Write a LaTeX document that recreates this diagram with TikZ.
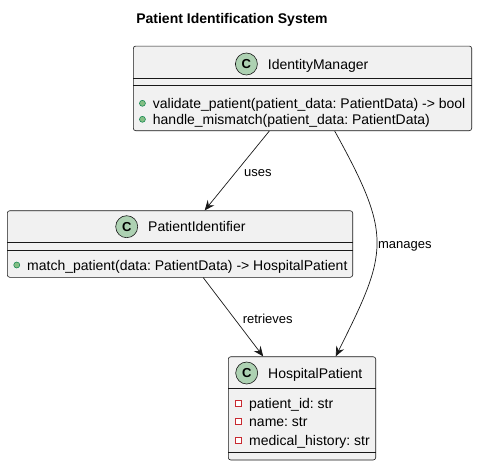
\documentclass[tikz,border=0pt]{standalone}
\usepackage{fontspec}
\setmainfont{Liberation Sans}
\usetikzlibrary{positioning,calc,arrows.meta}
\definecolor{umlbg}{HTML}{F1F1F1}
\definecolor{umlline}{HTML}{181818}
\definecolor{umlicon}{HTML}{ADD1B2}
\definecolor{umlpub}{HTML}{84BE84}
\definecolor{umlpubline}{HTML}{038048}
\definecolor{umlpriv}{HTML}{C82930}
\frenchspacing

\begin{document}
\begin{tikzpicture}[x=1pt, y=-1pt,
  classbox/.style={draw=umlline, fill=umlbg, rectangle, rounded corners=2.5pt, line width=0.6pt, inner sep=0pt},
  classname/.style={font=\fontsize{14}{16}\selectfont, inner sep=1pt, text height=10pt, text depth=0pt, anchor=west},
  classicon/.style={draw=umlline, fill=umlicon, circle, line width=0.6pt, minimum size=22pt, inner sep=0pt, font=\fontsize{13}{15}\selectfont\bfseries},
  member/.style={classname},
  pubmark/.style={draw=umlpubline, fill=umlpub, circle, minimum size=6pt, inner sep=0pt, line width=0.5pt},
  privmark/.style={draw=umlpriv, fill=white, rectangle, minimum size=6pt, inner sep=0pt, line width=0.7pt},
  sepline/.style={draw=umlline, line width=0.6pt},
  assoc/.style={-{Stealth[length=10pt, width=8.5pt, inset=3.5pt]}, draw=umlline, line width=0.7pt},
  edgelabel/.style={font=\fontsize{13}{15}\selectfont, inner sep=1pt, text height=9pt, text depth=0pt}
]
\useasboundingbox (0,0) rectangle (477,466);

% Title
\node[font=\fontsize{14}{16}\selectfont\bfseries] (title) at (232,20) {Patient Identification System};

% IdentityManager
\node[classbox, minimum width=338.4pt, minimum height=84.7pt] (im) at (302.5,88.4) {};
\node[classname] (imname) at (266.7,64) {IdentityManager};
\node[classicon, left=9pt of imname] (imicon) {C};
\draw[sepline] ($(im.north west)+(0,32.3)$) -- ($(im.north east)+(0,32.3)$);
\draw[sepline] ($(im.north west)+(0,39.5)$) -- ($(im.north east)+(0,39.5)$);
\node[member] (imm1) at (151.7,103.3) {validate\_patient(patient\_data: PatientData) -> bool};
\node[pubmark, left=6pt of imm1] (imb1) {};
\node[member] (imm2) at (151.7,119.3) {handle\_mismatch(patient\_data: PatientData)};
\node[pubmark, left=6pt of imm2] (imb2) {};

% PatientIdentifier
\node[classbox, minimum width=345.4pt, minimum height=66.6pt] (pi) at (180,244) {};
\node[classname] (piname) at (147,226.7) {PatientIdentifier};
\node[classicon, left=9pt of piname] (piicon) {C};
\draw[sepline] ($(pi.north west)+(0,32.3)$) -- ($(pi.north east)+(0,32.3)$);
\draw[sepline] ($(pi.north west)+(0,39.5)$) -- ($(pi.north east)+(0,39.5)$);
\node[member] (pim1) at (26,265) {match\_patient(data: PatientData) -> HospitalPatient};
\node[pubmark, left=6pt of pim1] (pib1) {};

% HospitalPatient
\node[classbox, minimum width=147.4pt, minimum height=103.3pt] (hp) at (302,408.35) {};
\node[classname] (hpname) at (267,373) {HospitalPatient};
\node[classicon, left=9pt of hpname] (hpicon) {C};
\draw[sepline] ($(hp.north west)+(0,32)$) -- ($(hp.north east)+(0,32)$);
\draw[sepline] ($(hp.south west)+(0,-8.3)$) -- ($(hp.south east)+(0,-8.3)$);
\node[member] (hpa1) at (248,403.5) {patient\_id: str};
\node[privmark, left=6pt of hpa1] (hpb1) {};
\node[member] (hpa2) at (248,421.7) {name: str};
\node[privmark, left=6pt of hpa2] (hpb2) {};
\node[member] (hpa3) at (248,440) {medical\_history: str};
\node[privmark, left=6pt of hpa3] (hpb3) {};

% Arrows
\draw[assoc] ([xshift=136.3pt]im.south west) -- node[edgelabel, pos=0.52, right=7pt] (useslbl) {uses} ([xshift=197.7pt]pi.north west);
\draw[assoc] ([xshift=201.7pt]im.south west) .. controls +(58,105) and +(52.7,-105) .. ([xshift=107.7pt]hp.north west) node[edgelabel, pos=0.5, right=0pt] (manlbl) {manages};
\draw[assoc] ([xshift=196.2pt]pi.south west) -- node[edgelabel, pos=0.52, right=7pt] (retlbl) {retrieves} ([xshift=35.2pt]hp.north west);
\end{tikzpicture}
\end{document}
